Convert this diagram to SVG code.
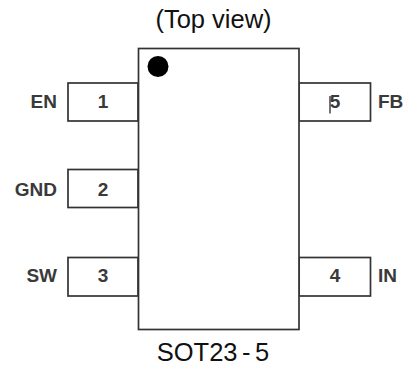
<svg xmlns="http://www.w3.org/2000/svg" width="404" height="367" viewBox="0 0 404 367">
<style>
.b{fill:#fff;stroke:#333;stroke-width:1.7}
.s{font-family:"Liberation Sans",Arial,sans-serif;font-size:19px;font-weight:700;fill:#3a3a3a}
.n{text-anchor:middle}
.e{text-anchor:end}
.t{font-family:"Liberation Sans",Arial,sans-serif;font-size:25.500px;fill:#111;text-anchor:middle}
</style>
<rect width="404" height="367" fill="#fff"/>
<g id="pin1"><rect class="b" x="68" y="83" width="70" height="38"/><text class="s n" x="103" y="108">1</text><text class="s e" x="57" y="108">EN</text></g>
<g id="pin2"><rect class="b" x="68" y="169.500" width="70" height="38"/><text class="s n" x="103" y="196">2</text><text class="s e" x="57" y="196">GND</text></g>
<g id="pin3"><rect class="b" x="68" y="257.500" width="70" height="38.500"/><text class="s n" x="103" y="282">3</text><text class="s e" x="57" y="282">SW</text></g>
<g id="pin5"><rect class="b" x="299" y="83" width="71.500" height="38"/><text class="s n" x="335" y="108">5</text><path d="M330 96V113.500" fill="none" stroke="#444" stroke-width="1.500"/><text class="s" x="378" y="108">FB</text></g>
<g id="pin4"><rect class="b" x="299" y="257.500" width="71.500" height="38.500"/><text class="s n" x="335" y="282">4</text><text class="s" x="378" y="282">IN</text></g>
<g id="chip"><rect class="b" x="138.500" y="48.500" width="160.500" height="281"/><circle cx="158" cy="66.500" r="10.500" fill="#000"/></g>
<text class="t" x="213.500" y="28">(Top view)</text>
<text class="t" x="213" y="361">SOT23<tspan dx="4.500">-</tspan><tspan dx="4.500">5</tspan></text>
</svg>
